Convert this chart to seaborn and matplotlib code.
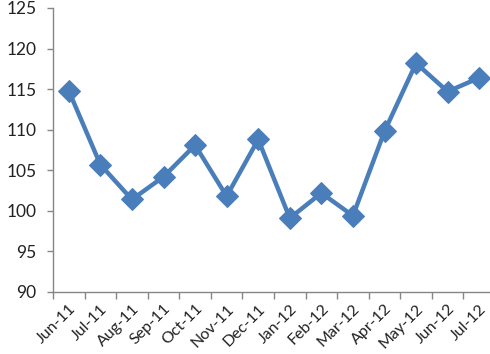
import matplotlib
matplotlib.use("Agg")
import matplotlib.pyplot as plt
import matplotlib.transforms as mtransforms
import seaborn as sns
import pandas as pd
import numpy as np

months = ["Jun-11", "Jul-11", "Aug-11", "Sep-11", "Oct-11", "Nov-11", "Dec-11",
          "Jan-12", "Feb-12", "Mar-12", "Apr-12", "May-12", "Jun-12", "Jul-12"]
values = [114.8, 105.7, 101.4, 104.2, 108.1, 101.8, 108.8,
          99.1, 102.2, 99.4, 109.8, 118.2, 114.7, 116.4]
yticks = [90, 95, 100, 105, 110, 115, 120, 125]

sns.set_theme(style="white")
plt.rcParams['font.family'] = ['Lato', 'DejaVu Sans']

df = pd.DataFrame({"idx": np.arange(len(months)), "value": values})

fig = plt.figure(figsize=(4.9, 3.54), dpi=100)
ax = fig.add_axes([53/490, 62/354, 442/490, 284/354])
color = "#4A7EBB"
sns.lineplot(data=df, x="idx", y="value", ax=ax, color=color, linewidth=3.2,
             marker="D", markersize=11, markeredgecolor=color, markerfacecolor=color,
             clip_on=False)

ax.set_xlim(-0.5, len(months) - 0.5)
ax.set_ylim(90, 125)
ax.set_yticks(yticks)
ax.set_yticklabels([str(v) for v in yticks], fontsize=12.5, color="#222222")
ax.set_xticks(np.arange(-0.5, len(months) + 0.5, 1))
ax.set_xticklabels([])
ax.set_xticks(np.arange(len(months)), minor=True)
ax.set_xticklabels(months, minor=True, rotation=45, ha="right", va="top",
                   rotation_mode="anchor", fontsize=11.5, color="#222222")
offset = mtransforms.ScaledTranslation(4/100, 0, fig.dpi_scale_trans)
for lab in ax.get_xticklabels(minor=True):
    lab.set_transform(lab.get_transform() + offset)
ax.tick_params(axis="x", which="minor", length=0, pad=7)
ax.tick_params(axis="x", which="major", length=5, width=1, color="#868686", direction="out", bottom=True)
ax.tick_params(axis="y", length=4, width=1, color="#868686", direction="out", left=True, pad=8)
ax.set_xlabel("")
ax.set_ylabel("")
for s in ["top", "right"]:
    ax.spines[s].set_visible(False)
for s in ["left", "bottom"]:
    ax.spines[s].set_color("#868686")
    ax.spines[s].set_linewidth(1)
ax.grid(False)

fig.savefig("out.png", dpi=100)
